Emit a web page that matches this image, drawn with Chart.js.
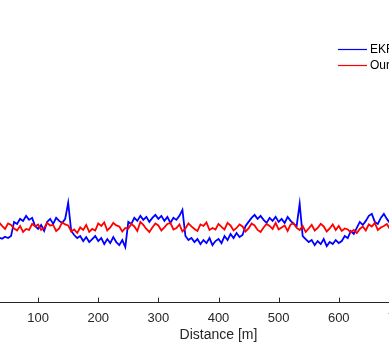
<!DOCTYPE html>
<html>
<head>
<meta charset="utf-8">
<script src="https://cdn.jsdelivr.net/npm/chart.js@4.4.0/dist/chart.umd.min.js"></script>
<style>
  html, body { margin: 0; padding: 0; background: #fff; overflow: hidden; width: 389px; height: 344px; }
  #wrap { position: absolute; left: -30px; top: 0; width: 497px; height: 344px; }
</style>
</head>
<body>
<div id="wrap"><canvas id="myChart"></canvas></div>
<script>
// sampling of the distance axis [m]
var stepM = 5;

// EKF error, one value every 5 m from 0 to 720 m
var ekf = [
    -0.40,-0.48,-0.36,-0.52,-0.44,-0.38,-0.50,-0.42,-0.47,-0.39,
    -0.44,-0.36, 0.20, 0.12, 0.32, 0.24, 0.44, 0.28, 0.36, 0.04,
    -0.08, 0.08,-0.16, 0.20, 0.32, 0.12, 0.36, 0.24, 0.16, 0.32,
     0.96,-0.16,-0.32,-0.44,-0.36,-0.56,-0.40,-0.60,-0.48,-0.36,
    -0.56,-0.44,-0.68,-0.48,-0.64,-0.40,-0.60,-0.72,-0.52,-0.80,
     0.20, 0.12, 0.36, 0.24, 0.44, 0.28, 0.40, 0.20, 0.36, 0.48,
     0.32, 0.44, 0.24, 0.40, 0.16, 0.36, 0.28, 0.44, 0.68,-0.36,
    -0.52,-0.44,-0.60,-0.48,-0.68,-0.52,-0.64,-0.44,-0.72,-0.56,
    -0.48,-0.64,-0.36,-0.52,-0.28,-0.44,-0.24,-0.40,-0.32, 0.04,
     0.20, 0.36, 0.48, 0.32, 0.44, 0.28, 0.16, 0.36, 0.24, 0.40,
     0.20, 0.32, 0.16, 0.40, 0.24, 0.12, 0.04, 0.92,-0.36,-0.48,
    -0.60,-0.52,-0.72,-0.56,-0.68,-0.48,-0.76,-0.60,-0.68,-0.52,
    -0.64,-0.56,-0.36,-0.44,-0.16,-0.28,-0.04, 0.20, 0.08, 0.24,
     0.44, 0.52, 0.20, 0.12, 0.36, 0.52, 0.32, 0.16, 0.24, 0.10,
     0.20, 0.12, 0.28, 0.18, 0.22
];

// Ours error, same sampling
var ours = [
     0.10, 0.02, 0.16, 0.06,-0.10,-0.02,-0.06, 0.18, 0.04,-0.08,
     0.14, 0.08,-0.06,-0.14, 0.04,-0.20,-0.08,-0.12, 0.12, 0.02,
     0.10,-0.12,-0.04, 0.16, 0.06, 0.08,-0.16,-0.06, 0.18, 0.10,
     0.06,-0.18,-0.10,-0.24,-0.02,-0.12, 0.08,-0.20,-0.08,-0.14,
     0.14, 0.04, 0.18,-0.14,-0.02, 0.16, 0.06, 0.02,-0.18,-0.04,
    -0.06, 0.12, 0.02,-0.16, 0.20, 0.08,-0.08,-0.20,-0.02, 0.14,
     0.06,-0.14,-0.02, 0.12, 0.16,-0.10,-0.04, 0.10,-0.18,-0.06,
     0.14, 0.02,-0.08,-0.16, 0.10, 0.04, 0.18,-0.12,-0.04,-0.10,
     0.12, 0.00,-0.10, 0.16, 0.06,-0.14,-0.04, 0.10, 0.02,-0.18,
    -0.06, 0.14, 0.06,-0.12,-0.20,-0.02, 0.12, 0.04,-0.08, 0.16,
    -0.10,-0.02, 0.06,-0.16, 0.10, 0.14,-0.04,-0.12, 0.04,-0.20,
    -0.06, 0.08,-0.14,-0.04, 0.12, 0.02,-0.18,-0.06, 0.10,-0.12,
     0.04,-0.16,-0.06,-0.10,-0.22,-0.12,-0.24,-0.08, 0.02,-0.14,
     0.10, 0.02, 0.16,-0.12,-0.02, 0.04, 0.12,-0.08, 0.06,-0.04,
     0.08,-0.10, 0.04,-0.06, 0.10
];

var seriesNames = ['EKF', 'Ours'];
var xTicks = [0, 100, 200, 300, 400, 500, 600, 700, 800];

var distance = [];
for (var i = 0; i < ekf.length; i++) {
    distance.push(i * stepM);
}

function toPoints(arr) {
    var pts = [];
    for (var i = 0; i < arr.length; i++) {
        pts.push({x: distance[i], y: arr[i]});
    }
    return pts;
}

var axisColor = '#262626';
var fontFamily = '"Liberation Sans", Arial, Helvetica, sans-serif';

// matlab style ticks pointing into the plot + legend inside the axes
const matlabBits = {
    id: 'matlabBits',
    afterDraw(chart) {
        const ctx = chart.ctx;
        const xs = chart.scales.x;
        const bottom = chart.chartArea.bottom;
        ctx.save();
        ctx.strokeStyle = axisColor;
        ctx.lineWidth = 1;
        xTicks.forEach(function(t) {
            var px = Math.round(xs.getPixelForValue(t)) + 0.5;
            ctx.beginPath();
            ctx.moveTo(px, bottom);
            ctx.lineTo(px, bottom - 5);
            ctx.stroke();
        });

        // legend (wrapper is shifted 30px to the left)
        var colors = ['rgb(0,0,255)', 'rgb(255,0,0)'];
        var rows = [49.5, 65.5];
        ctx.font = '12px ' + fontFamily;
        ctx.textBaseline = 'middle';
        ctx.textAlign = 'left';
        for (var k = 0; k < seriesNames.length; k++) {
            ctx.strokeStyle = colors[k];
            ctx.lineWidth = 1.2;
            ctx.beginPath();
            ctx.moveTo(368, rows[k]);
            ctx.lineTo(397, rows[k]);
            ctx.stroke();
            ctx.fillStyle = '#000';
            ctx.fillText(seriesNames[k], 400, rows[k] + 0.5);
        }
        ctx.restore();
    }
};

const ctx = document.getElementById('myChart');
const myChart = new Chart(ctx, {
    type: 'line',
    data: {
        datasets: [{
            label: seriesNames[0],
            data: toPoints(ekf),
            borderColor: 'rgb(0,0,255)',
            borderWidth: 1.8,
            pointRadius: 0,
            tension: 0,
            order: 2
        }, {
            label: seriesNames[1],
            data: toPoints(ours),
            borderColor: 'rgb(255,0,0)',
            borderWidth: 1.8,
            pointRadius: 0,
            tension: 0,
            order: 1
        }]
    },
    options: {
        responsive: true,
        maintainAspectRatio: false,
        animation: false,
        layout: { padding: 0 },
        plugins: {
            legend: { display: false },
            tooltip: { enabled: false }
        },
        scales: {
            x: {
                type: 'linear',
                min: 0,
                max: 800,
                grid: { display: false, drawTicks: false },
                border: { display: true, color: axisColor, width: 1 },
                ticks: {
                    stepSize: 100,
                    autoSkip: false,
                    maxRotation: 0,
                    padding: 8,
                    color: axisColor,
                    font: { family: fontFamily, size: 13 },
                    callback: function(v) {
                        return (v === 0 || v === 800) ? '' : String(v);
                    }
                },
                title: {
                    display: true,
                    text: 'Distance [m]',
                    color: axisColor,
                    font: { family: fontFamily, size: 14 },
                    padding: { top: -7, bottom: 0 }
                }
            },
            y: {
                display: false,
                min: -3,
                max: 9
            }
        }
    },
    plugins: [matlabBits]
});
</script>
</body>
</html>
